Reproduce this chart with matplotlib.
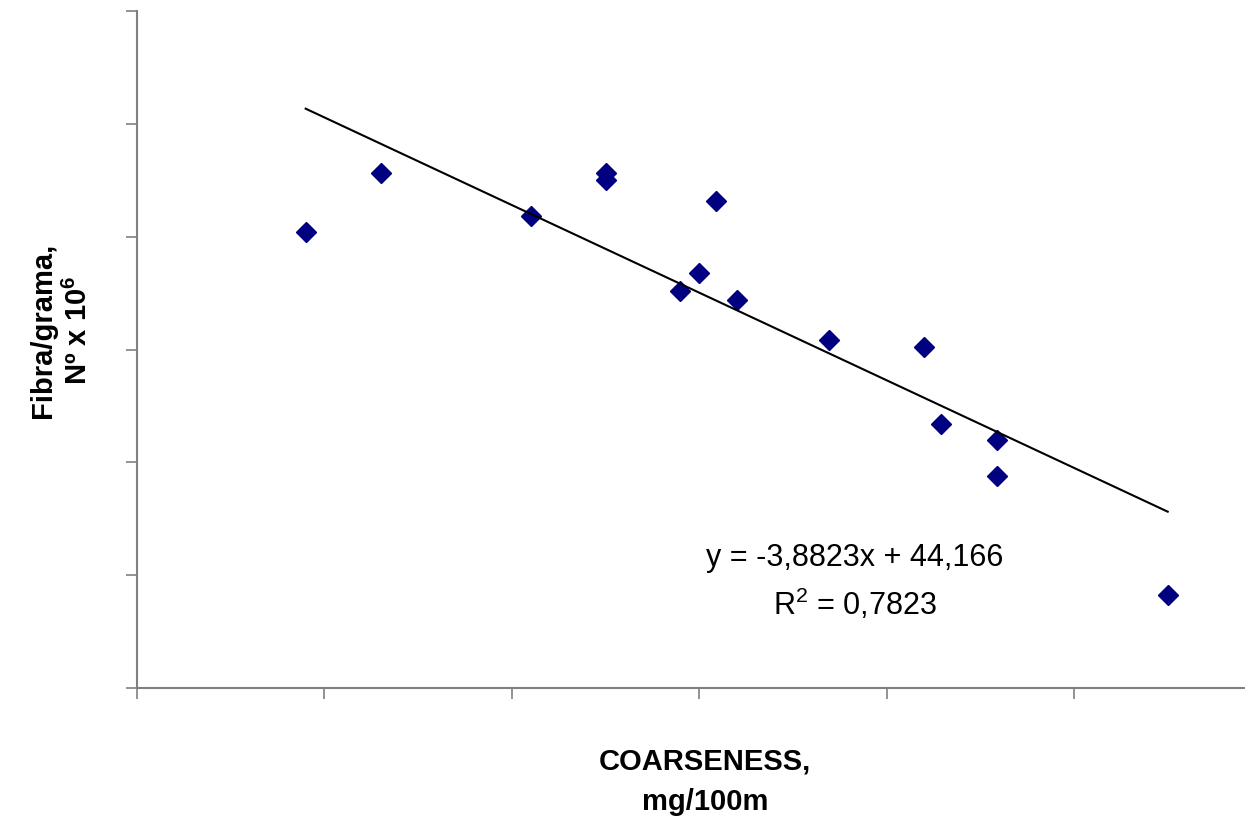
import numpy as np
import matplotlib
matplotlib.use("Agg")
import matplotlib.pyplot as plt

plt.rcParams['font.family'] = ['Liberation Sans', 'DejaVu Sans']
plt.rcParams['mathtext.fontset'] = 'custom'
plt.rcParams['mathtext.rm'] = 'Liberation Sans'
plt.rcParams['mathtext.bf'] = 'Liberation Sans:bold'

# data (coarseness vs fibres per gram)
coarseness = [0.90, 1.30, 2.10, 2.50, 2.50, 3.09, 3.00, 2.90, 3.20,
              3.69, 4.20, 4.29, 4.59, 4.59, 5.50]
fibra = [35.2, 37.8, 35.9, 37.8, 37.5, 36.6, 33.4, 32.6, 32.2,
         30.4, 30.1, 26.7, 26.0, 24.4, 19.1]

slope = -3.8823
intercept = 44.166
r2 = 0.7823

fig = plt.figure(figsize=(12.45, 8.2), dpi=100)
ax = fig.add_axes([137/1245, 131/820, 1124.4/1245, 677/820])

ax.plot(coarseness, fibra, 'D', color='#000080', markersize=10, linestyle='none')

xs = np.array([min(coarseness), max(coarseness)])
ax.plot(xs, slope * xs + intercept, color='black', linewidth=1.5)

ax.set_xlim(0, 6)
ax.set_ylim(15, 45)
ax.set_xticks(np.arange(0, 7, 1))
ax.set_yticks(np.arange(15, 50, 5))
ax.set_xticklabels([])
ax.set_yticklabels([])
ax.tick_params(direction='out', length=8, width=1.2, color='#808080')
for s in ['top', 'right']:
    ax.spines[s].set_visible(False)
for s in ['left', 'bottom']:
    ax.spines[s].set_color('#808080')
    ax.spines[s].set_linewidth(1.5)

ax.text(3.83, 20.8, "y = -3,8823x + 44,166", fontsize=22, ha='center', va='center')
ax.text(3.83, 18.76, "R$^{2}$ = 0,7823", fontsize=22, ha='center', va='center')

fig.text(705/1245, 1 - 782/820, "COARSENESS,\nmg/100m", fontsize=21, fontweight='bold',
         ha='center', va='center', linespacing=1.55)
fig.text(61/1245, 1 - 330/820, "Fibra/grama,\nNº x 10$^{\\mathbf{6}}$", fontsize=21,
         fontweight='bold', ha='center', va='center', rotation=90, linespacing=1.3)

fig.savefig("out.png", dpi=100)
